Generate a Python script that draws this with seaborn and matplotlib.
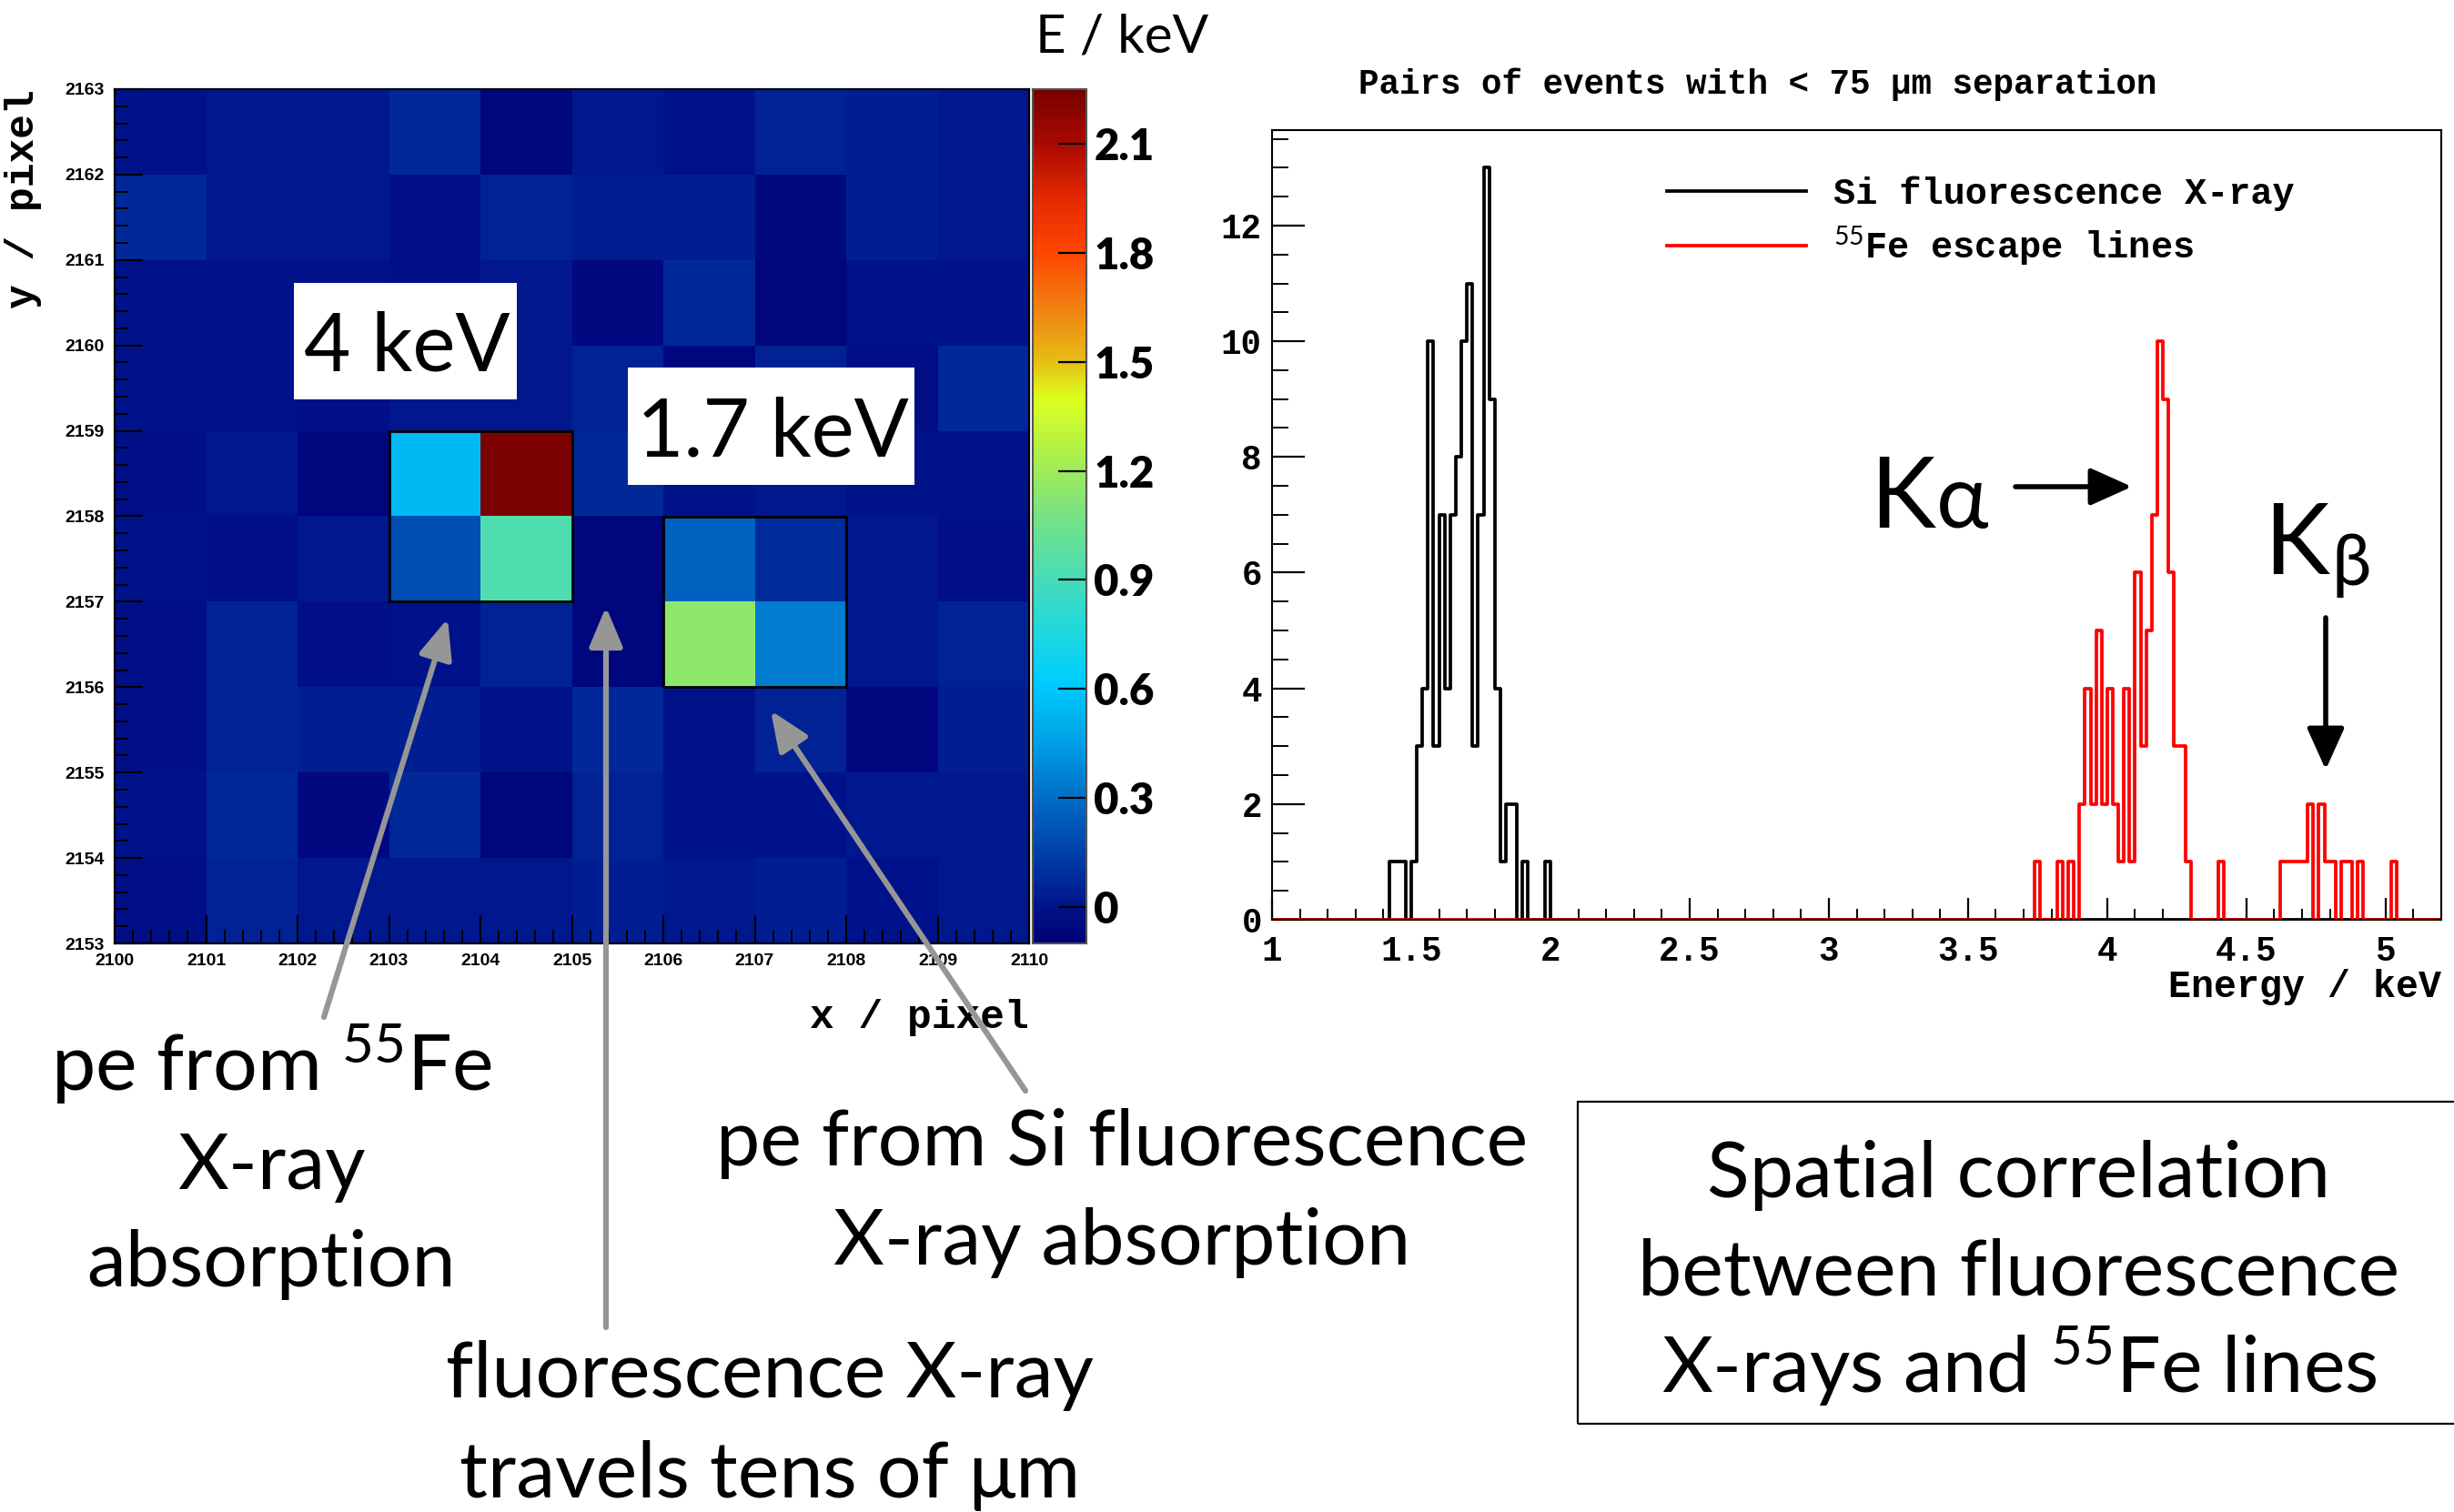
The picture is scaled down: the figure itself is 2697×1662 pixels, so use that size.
import numpy as np
import pandas as pd
import matplotlib
matplotlib.use("Agg")
import matplotlib.pyplot as plt
import seaborn as sns
from matplotlib.colors import LinearSegmentedColormap
from matplotlib.patches import Rectangle, FancyArrowPatch
from matplotlib.lines import Line2D
from matplotlib.ticker import MultipleLocator

# ---- pixel map: deposited energy (keV), x = 2100..2109, rows from y=2162 (top) to y=2153
x_pixels = [2100, 2101, 2102, 2103, 2104, 2105, 2106, 2107, 2108, 2109]
y_pixels = [2162, 2161, 2160, 2159, 2158, 2157, 2156, 2155, 2154, 2153]
row_2162 = [0.0, 0.017, 0.017, 0.067, -0.07, 0.017, 0.0, 0.05, 0.033, 0.017]
row_2161 = [0.067, 0.017, 0.017, -0.025, 0.05, 0.033, 0.033, -0.045, 0.033, 0.017]
row_2160 = [0.0, 0.0, 0.0, -0.025, 0.017, -0.045, 0.067, -0.07, 0.0, 0.0]
row_2159 = [0.0, 0.0, -0.025, 0.017, 0.017, 0.05, -0.055, 0.05, -0.025, 0.067]
row_2158 = [-0.025, 0.017, -0.055, 0.55, 2.24, 0.067, 0.0, 0.017, 0.0, 0.0]
row_2157 = [0.0, -0.025, 0.017, 0.2, 0.93, -0.06, 0.26, 0.08, 0.017, -0.025]
row_2156 = [-0.025, 0.05, -0.025, 0.0, 0.05, -0.07, 1.14, 0.345, 0.017, 0.05]
row_2155 = [-0.025, 0.05, 0.033, 0.033, 0.0, 0.067, 0.0, 0.05, -0.055, 0.033]
row_2154 = [0.0, 0.067, -0.045, 0.067, -0.07, 0.05, 0.0, 0.0, 0.017, 0.017]
row_2153 = [-0.025, 0.05, 0.017, 0.017, 0.017, 0.033, 0.017, 0.033, 0.0, 0.017]
cbar_ticks = [0, 0.3, 0.6, 0.9, 1.2, 1.5, 1.8, 2.1]
cbar_labels = ["0", "0.3", "0.6", "0.9", "1.2", "1.5", "1.8", "2.1"]

# clusters (lower-left pixel of 2x2 boxes)
cluster_4kev = (2103, 2157)
cluster_17kev = (2106, 2156)

# ---- spectrum of pairs (bin low edge in keV, counts), bin width 0.02 keV
si_bin_lo = [1.42, 1.44, 1.46, 1.50, 1.52, 1.54, 1.56, 1.58, 1.60, 1.62, 1.64, 1.66,
             1.68, 1.70, 1.72, 1.74, 1.76, 1.78, 1.80, 1.82, 1.84, 1.86, 1.90, 1.98]
si_counts = [1, 1, 1, 1, 3, 4, 10, 3, 7, 4, 7, 8,
             10, 11, 3, 7, 13, 9, 4, 1, 2, 2, 1, 1]
fe_bin_lo = [3.74, 3.82, 3.86, 3.90, 3.92, 3.94, 3.96, 3.98, 4.00, 4.02, 4.04, 4.06,
             4.08, 4.10, 4.12, 4.14, 4.16, 4.18, 4.20, 4.22, 4.24, 4.26, 4.28, 4.40,
             4.62, 4.64, 4.66, 4.68, 4.70, 4.72, 4.76, 4.78, 4.80, 4.84, 4.86, 4.90, 5.02]
fe_counts = [1, 1, 1, 2, 4, 2, 5, 2, 4, 2, 1, 4,
             1, 6, 3, 5, 7, 10, 9, 6, 3, 3, 1, 1,
             1, 1, 1, 1, 1, 2, 2, 1, 1, 1, 1, 1, 1]
hist_xticks = [1, 1.5, 2, 2.5, 3, 3.5, 4, 4.5, 5]
hist_yticks = [0, 2, 4, 6, 8, 10, 12]

plt.rcParams['mathtext.fontset'] = 'custom'
plt.rcParams['mathtext.rm'] = 'Lato'
plt.rcParams['mathtext.it'] = 'Lato:italic'
plt.rcParams['mathtext.bf'] = 'Lato:bold'

W, H = 2697, 1662
fig = plt.figure(figsize=(W / 100, H / 100), dpi=100)


def fpos(x, y):
    return (x / W, 1 - y / H)


def fbox(l, t, r, b):
    return [l / W, 1 - b / H, (r - l) / W, (b - t) / H]


mono = dict(family=['Liberation Mono', 'DejaVu Sans Mono'], weight='bold')
sans = ['Lato', 'DejaVu Sans']

# ---- heat map
cb_levels = [-0.1, 0.0, 0.15, 0.3, 0.45, 0.62, 0.75, 0.9, 1.05, 1.2, 1.4, 1.5, 1.65, 1.8, 1.95, 2.1, 2.25]
cb_colors = ['#000076', '#00148c', '#0041aa', '#006ec8', '#00a0e6', '#00cdff', '#1ed7e1', '#46dcb9',
             '#6ee18c', '#a0eb5a', '#dcff1e', '#e6be14', '#f08214', '#ff4600', '#e62800', '#aa0a00', '#780000']
cmap = LinearSegmentedColormap.from_list(
    'root', [((v + 0.1) / 2.35, c) for v, c in zip(cb_levels, cb_colors)])

pixel_E = np.array([row_2162, row_2161, row_2160, row_2159, row_2158,
                    row_2157, row_2156, row_2155, row_2154, row_2153])

ax_map = fig.add_axes(fbox(126, 98, 1131, 1037))
cax = fig.add_axes(fbox(1135, 98, 1194, 1037))
sns.heatmap(pixel_E, cmap=cmap, vmin=-0.1, vmax=2.25, ax=ax_map, cbar_ax=cax,
            xticklabels=False, yticklabels=False)

for s in ax_map.spines.values():
    s.set_visible(True)
    s.set_color('black')
    s.set_linewidth(1.6)
ax_map.set_xticks(np.arange(len(x_pixels) + 1))
ax_map.set_xticklabels([str(v) for v in x_pixels + [x_pixels[-1] + 1]])
ax_map.set_yticks(np.arange(len(y_pixels) + 1))
ax_map.set_yticklabels([str(v) for v in [y_pixels[0] + 1] + y_pixels], rotation=0)
ax_map.xaxis.set_minor_locator(MultipleLocator(0.2))
ax_map.yaxis.set_minor_locator(MultipleLocator(0.2))
ax_map.tick_params(which='major', direction='in', length=22, width=1.5, top=False, right=False,
                   bottom=True, left=True, labelsize=14, pad=8)
ax_map.tick_params(which='minor', direction='in', length=11, width=1.3, top=False, right=False,
                   bottom=True, left=True)
for lab in ax_map.get_xticklabels() + ax_map.get_yticklabels():
    lab.set_family(['Liberation Sans', 'DejaVu Sans'])
    lab.set_weight('bold')
ax_map.set_xlabel('x / pixel', fontsize=32, **mono)
ax_map.xaxis.set_label_coords(1.0, -0.065)
ax_map.xaxis.label.set_ha('right')
ax_map.set_ylabel('y / pixel', fontsize=32, **mono)
ax_map.yaxis.set_label_coords(-0.08, 1.0)
ax_map.yaxis.label.set_ha('right')

for (cx, cy) in [cluster_4kev, cluster_17kev]:
    col = x_pixels.index(cx)
    row = y_pixels.index(cy + 1)
    ax_map.add_patch(Rectangle((col, row), 2, 2, fill=False, ec='black', lw=2, zorder=5))

cbar = ax_map.collections[0].colorbar
cbar.set_ticks(cbar_ticks)
cbar.set_ticklabels(cbar_labels)
cbar.outline.set_edgecolor('#555555')
cbar.outline.set_linewidth(1.5)
cax.tick_params(direction='in', length=22, width=1.6, labelsize=34, pad=6)
for lab in cax.get_yticklabels():
    lab.set_family(sans)
    lab.set_weight('heavy')

# ---- spectrum
si_df = pd.DataFrame({'energy': np.array(si_bin_lo) + 0.01, 'counts': si_counts})
fe_df = pd.DataFrame({'energy': np.array(fe_bin_lo) + 0.01, 'counts': fe_counts})
edges = [round(1.0 + 0.02 * i, 2) for i in range(211)]
ax_h = fig.add_axes(fbox(1398, 143, 2683, 1011))
sns.histplot(data=si_df, x='energy', weights='counts', bins=edges, element='step',
             fill=False, color='black', linewidth=2.7, ax=ax_h)
sns.histplot(data=fe_df, x='energy', weights='counts', bins=edges, element='step',
             fill=False, color='#ff0000', linewidth=2.7, ax=ax_h)
ax_h.set_xlim(1.0, 5.2)
ax_h.set_ylim(0, 13.65)
ax_h.set_xticks(hist_xticks)
ax_h.set_xticklabels(['%g' % v for v in hist_xticks])
ax_h.set_yticks(hist_yticks)
ax_h.xaxis.set_minor_locator(MultipleLocator(0.1))
ax_h.yaxis.set_minor_locator(MultipleLocator(0.5))
ax_h.tick_params(axis='x', which='major', direction='in', length=17, width=1.6, labelsize=27, pad=12)
ax_h.tick_params(axis='x', which='minor', direction='in', length=9, width=1.4)
ax_h.tick_params(axis='y', which='major', direction='in', length=26, width=1.6, labelsize=27, pad=8)
ax_h.tick_params(axis='y', which='minor', direction='in', length=13, width=1.4)
for lab in ax_h.get_xticklabels() + ax_h.get_yticklabels():
    lab.set_family(mono['family'])
    lab.set_weight('bold')
for s in ax_h.spines.values():
    s.set_linewidth(1.5)
ax_h.set_ylabel('')
ax_h.set_xlabel('Energy / keV', fontsize=30, **mono)
ax_h.xaxis.set_label_coords(1.0, -0.062)
ax_h.xaxis.label.set_ha('right')

handles = [Line2D([], [], color='black', lw=2.7), Line2D([], [], color='#ff0000', lw=2.7)]
ax_h.legend(handles, ['Si fluorescence X-ray', r'$^{55}$Fe escape lines'],
            loc='upper left', bbox_to_anchor=(0.322, 0.965), frameon=False,
            prop=dict(family=mono['family'], weight='bold', size=29),
            handlelength=3.8, handletextpad=0.75, labelspacing=0.35, borderpad=0)

fig.text(*fpos(1932, 103), 'Pairs of events with < 75 \u03bcm separation', ha='center',
         va='baseline', fontsize=27, **mono)

# ---- annotations
fig.text(*fpos(1233, 58), 'E / keV', ha='center', va='baseline', fontsize=42, family=sans)

for (l, t, r, b) in [(323, 311, 568, 439), (690, 404, 1005, 533)]:
    fig.patches.append(Rectangle(fpos(l, b), (r - l) / W, (b - t) / H, transform=fig.transFigure,
                                 fc='white', ec='none', zorder=2))
fig.text(*fpos(447, 408), '4 keV', ha='center', va='baseline', fontsize=64, family=sans, zorder=4)
fig.text(*fpos(849, 502), '1.7 keV', ha='center', va='baseline', fontsize=64, family=sans, zorder=4)

big_lines = [
    ('pe from $^{55}$Fe', 298, 1199),
    ('X-ray', 298, 1307),
    ('absorption', 298, 1414),
    ('pe from Si fluorescence', 1233, 1281),
    ('X-ray absorption', 1233, 1390),
    ('fluorescence X-ray', 846, 1536),
    ('travels tens of \u03bcm', 846, 1646),
    ('Spatial correlation', 2219, 1316),
    ('between fluorescence', 2219, 1424),
    ('X-rays and $^{55}$Fe lines', 2219, 1531),
]
for txt, x, y in big_lines:
    fig.text(*fpos(x, y), txt, ha='center', va='baseline', fontsize=62, family=sans, zorder=4)

fig.patches.append(Rectangle(fpos(1734, 1565), (2710 - 1734) / W, (1565 - 1211) / H,
                             transform=fig.transFigure, fc='none', ec='black', lw=1.6, zorder=2))

gray_arrows = [((356, 1118), (492, 680)), ((666, 1459), (666, 667)), ((1127, 1199), (847, 781))]
for a, b in gray_arrows:
    fig.patches.append(FancyArrowPatch(fpos(*a), fpos(*b), transform=fig.transFigure,
                                       arrowstyle='-|>,head_length=0.38,head_width=0.16',
                                       mutation_scale=70, lw=4.5, color='#969696',
                                       shrinkA=0, shrinkB=0, zorder=3))

black_arrows = [((2215, 535), (2343, 535)), ((2556, 679), (2556, 846))]
for a, b in black_arrows:
    fig.patches.append(FancyArrowPatch(fpos(*a), fpos(*b), transform=fig.transFigure,
                                       arrowstyle='-|>,head_length=0.4,head_width=0.18',
                                       mutation_scale=70, lw=4, color='black',
                                       shrinkA=0, shrinkB=0, zorder=3))

fig.text(*fpos(2055, 580), 'K', ha='left', va='baseline', fontsize=78, family=sans)
fig.text(*fpos(2128, 580), '\u03b1', ha='left', va='baseline', fontsize=70, family=sans)
fig.text(*fpos(2488, 631), 'K', ha='left', va='baseline', fontsize=78, family=sans)
fig.text(*fpos(2563, 643), '\u03b2', ha='left', va='baseline', fontsize=56, family=sans)

fig.savefig('out.png', dpi=100)
